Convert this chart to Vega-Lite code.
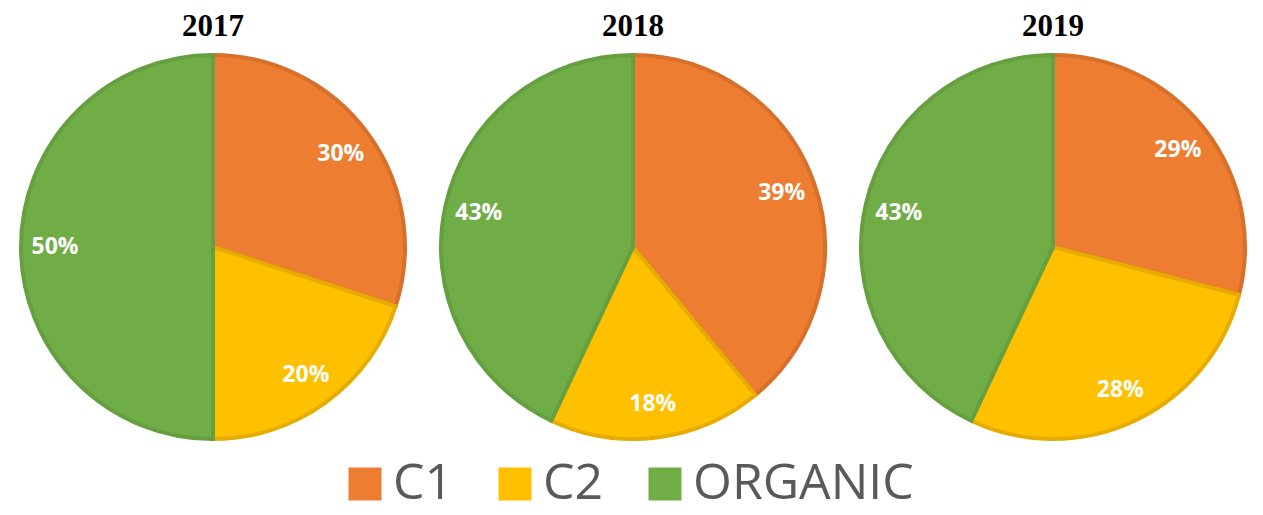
{
  "$schema": "https://vega.github.io/schema/vega-lite/v6.json",
  "padding": {"left": 3, "top": 11, "right": 0, "bottom": 0},
  "background": "white",
  "data": {"values": [
    {"year": "2017", "category": "C1", "order": 1, "value": 0.30},
    {"year": "2017", "category": "C2", "order": 2, "value": 0.20},
    {"year": "2017", "category": "ORGANIC", "order": 3, "value": 0.50},
    {"year": "2018", "category": "C1", "order": 1, "value": 0.39},
    {"year": "2018", "category": "C2", "order": 2, "value": 0.18},
    {"year": "2018", "category": "ORGANIC", "order": 3, "value": 0.43},
    {"year": "2019", "category": "C1", "order": 1, "value": 0.29},
    {"year": "2019", "category": "C2", "order": 2, "value": 0.28},
    {"year": "2019", "category": "ORGANIC", "order": 3, "value": 0.43}
  ]},
  "facet": {"column": {"field": "year", "type": "nominal", "header": {
    "title": null, "labelFontSize": 31, "labelFont": "Liberation Serif", "labelFontWeight": "bold",
    "labelColor": "black", "labelPadding": 4
  }}},
  "spacing": 0,
  "spec": {
    "width": 420,
    "height": 390,
    "encoding": {
      "theta": {"field": "value", "type": "quantitative", "stack": true},
      "order": {"field": "order", "type": "quantitative"}
    },
    "layer": [
      {
        "mark": {"type": "arc", "outerRadius": 192, "strokeWidth": 4},
        "encoding": {
          "color": {"field": "category", "type": "nominal",
            "scale": {"domain": ["C1", "C2", "ORGANIC"], "range": ["#ED7D31", "#FFC000", "#70AD47"]},
            "legend": {"orient": "none", "legendX": 337, "legendY": 407, "direction": "horizontal", "title": null,
              "symbolType": "square", "symbolSize": 1089, "symbolStrokeWidth": 0,
              "labelFontSize": 50, "labelFont": "Open Sans", "labelColor": "#595959",
              "labelOffset": 3, "columnPadding": 36, "labelLimit": 400}},
          "stroke": {"field": "category", "type": "nominal",
            "scale": {"domain": ["C1", "C2", "ORGANIC"], "range": ["#D6702B", "#E6AC00", "#659F40"]},
            "legend": null}
        }
      },
      {
        "mark": {"type": "text", "radius": 158, "font": "Open Sans", "fontWeight": "bold", "fontSize": 23, "fill": "white"},
        "encoding": {
          "text": {"field": "value", "type": "quantitative", "format": ".0%"}
        }
      }
    ]
  },
  "config": {"view": {"stroke": null}}
}
